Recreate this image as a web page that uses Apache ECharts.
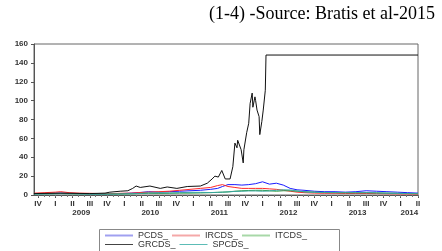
<!DOCTYPE html>
<html>
<head>
<meta charset="utf-8">
<script src="https://cdn.jsdelivr.net/npm/echarts@6/dist/echarts.min.js"></script>
<style>
  html, body { margin: 0; padding: 0; background: #fff; }
  #chart { width: 442px; height: 251px; }
</style>
</head>
<body>
<div id="chart"></div>
<script>
// GRCDS_ (Greece) - denser points, dates as decimal years
const tGR = [2008.69, 2009.07, 2009.50, 2009.72, 2009.79, 2009.94, 2010.05, 2010.12, 2010.17, 2010.23,
  2010.37, 2010.52, 2010.62, 2010.76, 2010.91, 2011.10, 2011.20, 2011.27, 2011.31, 2011.36,
  2011.41, 2011.46, 2011.53, 2011.57, 2011.60, 2011.63, 2011.64, 2011.69, 2011.72, 2011.73,
  2011.77, 2011.80, 2011.82, 2011.85, 2011.86, 2011.89, 2011.90, 2011.92, 2011.95, 2011.96,
  2011.99, 2012.01, 2012.04, 2012.05, 2014.25];
const grcds = [1.5, 2, 1.5, 2, 3, 4, 4.5, 7, 9.5, 8,
  9.5, 7, 8.5, 7, 9, 9.5, 12.5, 17, 20, 19,
  26, 17, 17, 30, 55, 50, 58, 48, 34, 48,
  66, 76, 97, 108, 93, 104, 100, 90, 83, 64,
  78, 90, 111, 148.3, 148.3];

// the other four series share one date list
const tSmall = [2008.70, 2008.85, 2009.00, 2009.08, 2009.20, 2009.35, 2009.50, 2009.65, 2009.80, 2009.95,
  2010.10, 2010.20, 2010.35, 2010.50, 2010.65, 2010.80, 2010.95, 2011.10, 2011.25, 2011.35,
  2011.42, 2011.50, 2011.60, 2011.70, 2011.80, 2011.90, 2012.00, 2012.10, 2012.20, 2012.30,
  2012.40, 2012.50, 2012.60, 2012.75, 2012.90, 2013.05, 2013.20, 2013.35, 2013.50, 2013.65,
  2013.80, 2013.95, 2014.10, 2014.25];
const pcds = [1.5, 1.5, 1.8, 2, 1.8, 1.5, 1.3, 1.2, 1.3, 1.5,
  2, 2.5, 3.5, 3, 3.5, 4, 4.5, 5, 6, 7,
  9, 11, 11, 10.5, 11, 12, 14, 11.5, 12.5, 10.5,
  7, 5.5, 5, 4, 3.5, 3.5, 3, 3.5, 4.5, 4,
  3.5, 3, 2.5, 2];
const ircds = [2, 2.5, 3, 3.5, 2.5, 2, 1.8, 1.5, 1.5, 1.8,
  2, 2.5, 3, 3.5, 4, 5, 6, 7, 8, 10,
  11, 9, 8, 7, 7, 7, 7, 6.5, 6, 5,
  4, 3, 2.5, 2, 1.8, 1.8, 1.6, 1.6, 1.6, 1.5,
  1.3, 1.2, 1.1, 1];
const itcds = [1.2, 1.3, 1.5, 1.6, 1.4, 1.2, 1.1, 1, 1, 1.1,
  1.3, 1.5, 1.8, 1.7, 1.8, 2, 2, 2.2, 2.5, 2.8,
  3, 3.3, 4, 4.5, 4.8, 5, 5, 4.5, 4, 4.5,
  4.5, 4, 3.5, 3, 2.7, 2.5, 2.5, 2.4, 2.5, 2.3,
  2, 1.8, 1.6, 1.5];
const spcds = [1, 1.1, 1.2, 1.4, 1.3, 1.1, 1, 1, 1, 1.1,
  1.3, 1.6, 2.2, 2.3, 2.2, 2.5, 2.8, 2.8, 2.6, 2.8,
  3, 3.3, 3.8, 4, 4.3, 4.3, 4, 4.3, 5, 5.5,
  5.3, 4.3, 3.3, 2.8, 2.5, 2.5, 2.4, 2.4, 2.4, 2.2,
  1.9, 1.7, 1.5, 1.4];

// x axis ticks and labels
const quarterTicks = [2008.75, 2009, 2009.25, 2009.5, 2009.75, 2010, 2010.25, 2010.5, 2010.75,
  2011, 2011.25, 2011.5, 2011.75, 2012, 2012.25, 2012.5, 2012.75, 2013, 2013.25, 2013.5, 2013.75,
  2014, 2014.25];
const quarterLabels = ['IV', 'I', 'II', 'III', 'IV', 'I', 'II', 'III', 'IV',
  'I', 'II', 'III', 'IV', 'I', 'II', 'III', 'IV', 'I', 'II', 'III', 'IV',
  'I', 'II'];
const yearTicks = [2009.375, 2010.375, 2011.375, 2012.375, 2013.375, 2014.125];
const yearLabels = ['2009', '2010', '2011', '2012', '2013', '2014'];
const yTicks = [0, 20, 40, 60, 80, 100, 120, 140, 160];

const monthTicks = [];
for (let k = 0; k <= 66; k++) monthTicks.push(2008.75 + k / 12);

const X_MIN = 2008.692, X_MAX = 2014.25;

function pairs(t, v) {
  return t.map((x, i) => [x, v[i]]);
}
function lookup(ticks, labels, value) {
  for (let i = 0; i < ticks.length; i++) {
    if (Math.abs(ticks[i] - value) < 1e-4) return labels[i];
  }
  return '';
}
// legend swatches look paler than the plot lines in the original
function legendItem(name, color) {
  return { name: name, icon: 'rect', itemStyle: { color: color, borderWidth: 0 } };
}

const font = 'Liberation Sans';
let myChart = echarts.init(document.getElementById('chart'));
let option = {
  animation: false,
  title: {
    text: '(1-4) -Source: Bratis et al-2015',
    right: 2,
    top: 0,
    textStyle: { fontFamily: 'Liberation Serif', fontSize: 18, fontWeight: 'normal', color: '#000' }
  },
  grid: { left: 34, right: 24, top: 44, bottom: 56, show: true, borderColor: '#666', borderWidth: 1 },
  legend: [
    {
      left: 99, top: 231, padding: [0, 6], itemGap: 4, itemWidth: 28, itemHeight: 2,
      data: [legendItem('PCDS_', '#a0a0f0'), legendItem('IRCDS_', '#f4a8a8'), legendItem('ITCDS_', '#a8d8a8')],
      textStyle: { fontFamily: font, fontSize: 9, color: '#333', width: 50 }
    },
    {
      left: 99, top: 240, padding: [0, 6], itemGap: 4, itemWidth: 28, itemHeight: 1,
      data: [legendItem('GRCDS_', '#444'), legendItem('SPCDS_', '#5cbcb6')],
      textStyle: { fontFamily: font, fontSize: 9, color: '#333', width: 50 }
    }
  ],
  graphic: [{
    type: 'rect',
    shape: { x: 99.5, y: 229.5, width: 240, height: 30 },
    style: { fill: 'none', stroke: '#888', lineWidth: 1 },
    z: -1
  }],
  xAxis: [
    {
      type: 'value', min: X_MIN, max: X_MAX,
      axisLine: { lineStyle: { color: '#555', width: 1 } },
      axisTick: { show: true, customValues: quarterTicks, length: 3, lineStyle: { color: '#555' } },
      axisLabel: {
        customValues: quarterTicks, margin: 5, fontFamily: font, fontSize: 8, fontWeight: 'bold', color: '#333',
        formatter: v => lookup(quarterTicks, quarterLabels, v)
      },
      splitLine: { show: false }
    },
    {
      type: 'value', min: X_MIN, max: X_MAX, position: 'bottom',
      axisLine: { show: false },
      axisTick: { show: true, customValues: monthTicks, length: 2, lineStyle: { color: '#777' } },
      axisLabel: { show: false },
      splitLine: { show: false }
    },
    {
      type: 'value', min: X_MIN, max: X_MAX, position: 'bottom',
      axisLine: { show: false },
      axisTick: { show: false },
      axisLabel: {
        customValues: yearTicks, margin: 14, fontFamily: font, fontSize: 8, fontWeight: 'bold', color: '#333',
        formatter: v => lookup(yearTicks, yearLabels, v)
      },
      splitLine: { show: false }
    }
  ],
  yAxis: {
    type: 'value', min: 0, max: 160, interval: 20,
    axisLine: { show: true, lineStyle: { color: '#555' } },
    axisTick: { show: true, length: 3, lineStyle: { color: '#555' } },
    axisLabel: {
      margin: 6, fontFamily: font, fontSize: 8, fontWeight: 'bold', color: '#333',
      formatter: v => yTicks.indexOf(v) >= 0 ? String(v) : ''
    },
    splitLine: { show: false }
  },
  series: [
    { name: 'PCDS_', type: 'line', showSymbol: false, data: pairs(tSmall, pcds), color: '#1a1aff', lineStyle: { width: 1 } },
    { name: 'IRCDS_', type: 'line', showSymbol: false, data: pairs(tSmall, ircds), color: '#ff2a2a', lineStyle: { width: 1 } },
    { name: 'ITCDS_', type: 'line', showSymbol: false, data: pairs(tSmall, itcds), color: '#2e9a3e', lineStyle: { width: 1 } },
    { name: 'SPCDS_', type: 'line', showSymbol: false, data: pairs(tSmall, spcds), color: '#3aa7a0', lineStyle: { width: 1 } },
    { name: 'GRCDS_', type: 'line', showSymbol: false, data: pairs(tGR, grcds), color: '#111', lineStyle: { width: 1 } }
  ]
};
myChart.setOption(option, true);
</script>
</body>
</html>
